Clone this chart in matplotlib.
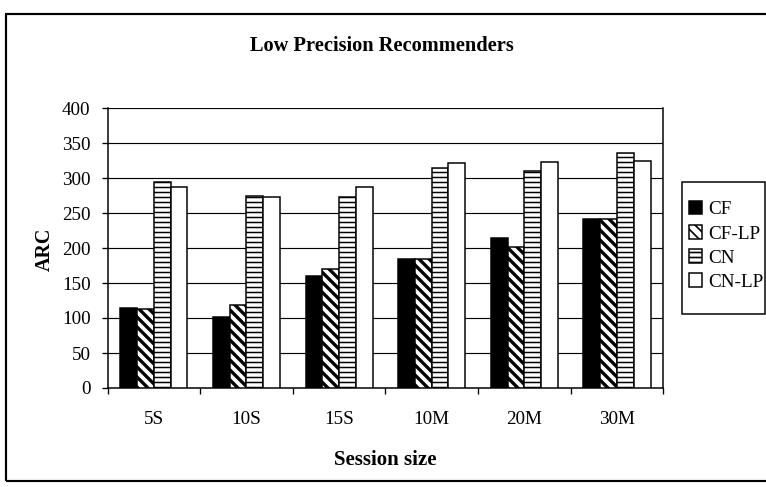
import matplotlib
matplotlib.use("Agg")
import matplotlib.pyplot as plt
import numpy as np
from matplotlib.patches import Rectangle

# Average recommendation count per session-size bucket
categories = ["5S", "10S", "15S", "10M", "20M", "30M"]
cf = [114, 101, 160, 185, 214, 241]
cf_lp = [113, 118, 170, 184, 202, 241]
cn = [295, 275, 273, 314, 310, 336]
cn_lp = [287, 273, 287, 321, 323, 325]
series_names = ["CF", "CF-LP", "CN", "CN-LP"]
y_ticks = [0, 50, 100, 150, 200, 250, 300, 350, 400]

plt.rcParams["font.family"] = ["Liberation Serif", "DejaVu Serif"]

W, H, DPI = 766, 487, 120
fig = plt.figure(figsize=(W / DPI, H / DPI), dpi=DPI)
fig.patch.set_facecolor("white")

ax_l, ax_r, ax_t, ax_b = 107.5, 663.3, 108.0, 388.0
ax = fig.add_axes([ax_l / W, 1 - ax_b / H, (ax_r - ax_l) / W, (ax_b - ax_t) / H])

x = np.arange(len(categories))
bw = 0.181
styles = [
    ("black", "", 1.0),
    ("white", "\\\\\\\\", 2.0),
    ("white", "----", 0.9),
    ("white", "", 1.0),
]
values = [cf, cf_lp, cn, cn_lp]
for i, (vals, name, (fc, hatch, hlw)) in enumerate(zip(values, series_names, styles)):
    with plt.rc_context({"hatch.linewidth": hlw, "hatch.color": "black"}):
        bars = ax.bar(x + (i - 1.5) * bw, vals, bw, facecolor=fc,
                      edgecolor="black", linewidth=0.9, hatch=hatch or None,
                      label=name, zorder=3)
        for b in bars:
            if hasattr(b, "set_hatch_linewidth"):
                b.set_hatch_linewidth(hlw)

ax.set_xlim(-0.5, len(categories) - 0.5)
ax.set_ylim(0, 400)
ax.set_yticks(y_ticks)
ax.yaxis.grid(True, color="black", linewidth=0.7, zorder=0)
ax.set_axisbelow(True)

ax.set_xticks(x)
ax.set_xticklabels(categories)
ax.set_xticks(np.arange(-0.5, len(categories), 1.0), minor=True)
ax.tick_params(axis="x", which="major", length=0, pad=13.5, labelsize=11.5)
ax.tick_params(axis="x", which="minor", length=3.6, width=0.8, direction="out")
ax.tick_params(axis="y", length=3.6, width=0.8, pad=6.6, labelsize=11.5)

ax.spines["top"].set_visible(False)
for s in ("left", "bottom", "right"):
    ax.spines[s].set_linewidth(0.9)

ax.set_ylabel("ARC", fontsize=12, fontweight="bold")
ax.yaxis.set_label_coords(-0.0957, 0.4954)
ax.set_xlabel("Session size", fontsize=12.5, fontweight="bold")
ax.xaxis.set_label_coords(0.499, -0.22)

fig.text(382 / W, 1 - 51 / H, "Low Precision Recommenders", ha="center",
         va="baseline", fontsize=12.2, fontweight="bold")

handles, labels = ax.get_legend_handles_labels()
leg = ax.legend(handles, labels, loc="center left",
                bbox_to_anchor=(689 / W, 1 - 245.9 / H),
                bbox_transform=fig.transFigure, frameon=False, fontsize=11.5,
                handlelength=0.7, handleheight=0.7, handletextpad=0.3,
                borderpad=0, borderaxespad=0, labelspacing=0.35)

# legend box
fig.add_artist(Rectangle((681.7 / W, 1 - 314 / H), (765 - 681.7) / W, (314 - 181.7) / H,
                         transform=fig.transFigure, fill=False, edgecolor="black",
                         linewidth=0.9))
# chart-area border
fig.add_artist(Rectangle((5.5 / W, 1 - 481 / H), (770 - 5.5) / W, (481 - 13.5) / H,
                         transform=fig.transFigure, fill=False, edgecolor="black",
                         linewidth=1.3))

fig.savefig("out.png", dpi=DPI)
